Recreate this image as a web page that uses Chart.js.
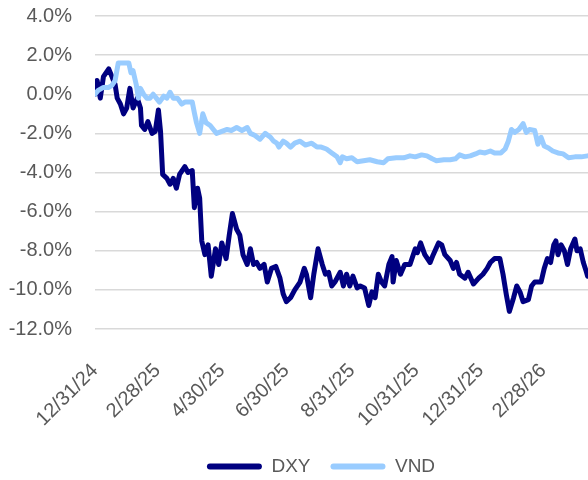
<!DOCTYPE html>
<html>
<head>
<meta charset="utf-8">
<script src="https://cdn.jsdelivr.net/npm/chart.js@4.4.1/dist/chart.umd.min.js"></script>
<style>
  html, body { margin: 0; padding: 0; background: #fff; }
  #wrap { width: 588px; height: 480px; }
</style>
</head>
<body>
<div id="wrap"><canvas id="chart_1"></canvas></div>
<script>
// x = days since 12/31/24, y = % change
var tickDays = [0, 59, 120, 181, 243, 304, 365, 424];
var tickLabels = ["12/31/24", "2/28/25", "4/30/25", "6/30/25", "8/31/25", "10/31/25", "12/31/25", "2/28/26"];

var dxyDays = [0, 2, 5, 8, 13, 16, 19, 21, 24, 27, 30, 33, 36, 40, 43, 44, 47, 50, 54, 57,
  60, 62, 64, 68, 71, 74, 77, 80, 85, 88, 92, 94, 97, 99, 101, 104, 107, 110, 114, 117,
  120, 124, 127, 130, 134, 137, 140, 144, 147, 150, 153, 156, 160, 163, 167, 171, 175, 178, 181, 185,
  189, 194, 198, 200, 204, 207, 211, 215, 218, 221, 224, 227, 232, 235, 238, 241, 244, 248, 251, 255,
  259, 262, 265, 268, 271, 274, 278, 281, 282, 285, 289, 293, 298, 303, 305, 308, 312, 317, 320, 325,
  328, 331, 336, 339, 342, 345, 350, 353, 358, 363, 367, 371, 374, 378, 383, 386, 389, 392, 396, 399,
  402, 405, 410, 413, 416, 422, 425, 428, 431, 434, 436, 438, 441, 444, 447, 450, 454, 456, 459, 462,
  465, 466];
var dxyValues = [0, 0.7, -0.2, 0.9, 1.3, 0.9, 0.5, -0.2, -0.5, -1.0, -0.7, 0.3, -0.7, -0.2, -0.7, -1.6, -1.8, -1.4, -2.0, -1.9,
  -0.8, -1.9, -4.1, -4.3, -4.6, -4.3, -4.8, -4.1, -3.7, -4.0, -3.9, -5.8, -4.8, -5.3, -7.5, -8.2, -7.7, -9.3, -7.9, -8.7,
  -7.6, -8.4, -7.2, -6.1, -6.9, -7.2, -8.2, -8.7, -7.9, -8.7, -8.6, -8.9, -8.7, -9.6, -8.9, -8.8, -9.4, -10.2, -10.6, -10.4,
  -10.0, -9.6, -8.9, -9.2, -10.4, -9.2, -7.9, -8.7, -9.2, -9.1, -9.8, -9.6, -9.1, -9.8, -9.2, -9.8, -9.3, -9.9, -9.8, -9.9,
  -10.8, -10.1, -10.4, -9.2, -9.6, -9.8, -8.7, -8.3, -9.6, -8.5, -9.2, -8.7, -8.7, -7.9, -8.1, -7.6, -8.2, -8.6, -8.2, -7.6,
  -7.7, -8.2, -8.5, -8.9, -8.6, -9.2, -9.4, -9.1, -9.7, -9.4, -9.2, -8.9, -8.6, -8.4, -8.4, -9.2, -10.2, -11.1, -10.4, -9.8,
  -10.1, -10.6, -10.5, -9.8, -9.6, -9.6, -8.9, -8.4, -8.6, -7.7, -7.5, -8.2, -7.7, -8.0, -8.7, -7.9, -7.4, -8.0, -7.9, -8.6,
  -9.1, -9.3];

var vndDays = [0, 3, 8, 13, 16, 19, 22, 27, 32, 34, 36, 39, 41, 43, 46, 49, 52, 55, 58, 61,
  65, 68, 71, 74, 78, 82, 85, 88, 92, 94, 96, 99, 102, 105, 109, 112, 115, 120, 125, 129,
  134, 139, 144, 147, 151, 156, 161, 166, 169, 172, 174, 178, 181, 185, 189, 194, 199, 205, 210, 214,
  219, 224, 229, 232, 234, 238, 243, 248, 254, 260, 267, 273, 277, 285, 292, 298, 303, 309, 314, 319,
  323, 330, 336, 341, 345, 350, 355, 360, 364, 369, 374, 378, 384, 388, 391, 394, 397, 401, 405, 408,
  411, 416, 419, 422, 425, 429, 433, 438, 443, 448, 454, 460, 466];
var vndValues = [0, 0.2, 0.35, 0.35, 0.45, 0.7, 1.6, 1.6, 1.6, 1.1, 1.2, 0.5, -0.2, 0.3, 0.0, -0.2, -0.2, 0.0, -0.2, -0.4,
  -0.1, -0.2, 0.1, -0.2, -0.2, -0.5, -0.4, -0.4, -0.4, -0.95, -1.45, -2.0, -1.0, -1.45, -1.6, -1.8, -2.0, -1.9, -1.8, -1.85,
  -1.7, -1.85, -1.7, -2.0, -2.1, -2.3, -2.0, -2.2, -2.4, -2.5, -2.7, -2.4, -2.5, -2.7, -2.5, -2.4, -2.6, -2.5, -2.7, -2.7,
  -2.8, -3.0, -3.2, -3.5, -3.2, -3.3, -3.25, -3.45, -3.4, -3.35, -3.45, -3.5, -3.3, -3.25, -3.25, -3.15, -3.2, -3.1, -3.15, -3.3,
  -3.4, -3.35, -3.35, -3.3, -3.1, -3.2, -3.15, -3.05, -2.95, -3.0, -2.9, -3.0, -3.0, -2.8, -2.4, -1.8, -1.95, -1.8, -1.5, -1.95,
  -1.8, -1.85, -2.55, -2.2, -2.65, -2.75, -2.9, -3.0, -3.05, -3.25, -3.2, -3.2, -3.15];

function toPoints(days, values) {
  var pts = [];
  for (var i = 0; i < days.length; i++) {
    pts.push({ x: days[i], y: values[i] });
  }
  return pts;
}

// nudge the legend right so it sits where the original one does
var legendShift = {
  id: 'legendShift',
  afterLayout: function (chart) {
    chart.legend.left += 27;
    chart.legend.right += 27;
  }
};

Chart.defaults.font.family = "'Liberation Sans', Arial, sans-serif";
Chart.defaults.color = "#595959";

new Chart(document.getElementById("chart_1"), {
  type: 'line',
  data: {
    datasets: [
      {
        label: "DXY",
        data: toPoints(dxyDays, dxyValues),
        borderColor: "#000080",
        backgroundColor: "#000080",
        borderWidth: 5,
        order: 2
      },
      {
        label: "VND",
        data: toPoints(vndDays, vndValues),
        borderColor: "#99CCFF",
        backgroundColor: "#99CCFF",
        borderWidth: 5,
        order: 1
      }
    ]
  },
  plugins: [legendShift],
  options: {
    responsive: true,
    maintainAspectRatio: false,
    animation: false,
    layout: { padding: { top: 16, left: 0, right: 0, bottom: -6 } },
    elements: {
      point: { radius: 0 },
      line: { tension: 0, borderJoinStyle: 'round', borderCapStyle: 'round' }
    },
    scales: {
      x: {
        type: 'linear',
        min: 0,
        max: 466.4,
        grid: { display: false },
        border: { display: false },
        afterBuildTicks: function (scale) {
          scale.ticks = tickDays.map(function (d) { return { value: d }; });
        },
        afterFit: function (scale) {
          scale.height = 108;
          scale.paddingRight = 0;
        },
        ticks: {
          autoSkip: false,
          maxRotation: 45,
          minRotation: 45,
          padding: 22,
          font: { size: 20 },
          callback: function (value) {
            var i = tickDays.indexOf(value);
            return i >= 0 ? tickLabels[i] : "";
          }
        }
      },
      y: {
        min: -12,
        max: 4,
        grid: { color: "#d9d9d9", lineWidth: 1.5, drawTicks: true, tickLength: 23, tickColor: "rgba(0,0,0,0)" },
        border: { display: false },
        afterFit: function (scale) { scale.width = 95; },
        ticks: {
          stepSize: 2,
          padding: 0,
          font: { size: 20 },
          callback: function (value) { return value.toFixed(1) + "%"; }
        }
      }
    },
    plugins: {
      tooltip: { enabled: false },
      legend: {
        position: 'bottom',
        reverse: true,
        labels: {
          boxWidth: 55,
          boxHeight: 6,
          useBorderRadius: true,
          borderRadius: 3,
          padding: 20,
          font: { size: 19 },
          generateLabels: function (chart) {
            var items = Chart.defaults.plugins.legend.labels.generateLabels(chart);
            items.forEach(function (it) { it.lineWidth = 0; });
            return items;
          }
        }
      }
    }
  }
});
</script>
</body>
</html>
